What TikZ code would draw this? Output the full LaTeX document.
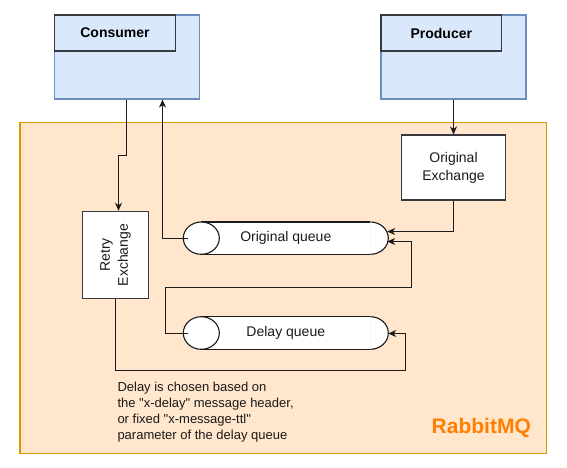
\documentclass[tikz,border=0pt]{standalone}
\usepackage{fontspec}
\setmainfont{Liberation Sans}[Ligatures=TeXOff]
\usetikzlibrary{arrows.meta}
\definecolor{orfill}{HTML}{FFE6CC}
\definecolor{ordraw}{HTML}{D79B00}
\definecolor{blfill}{HTML}{DAE8FC}
\definecolor{bldraw}{HTML}{6C8EBF}
\definecolor{hdrdraw}{HTML}{36393D}
\definecolor{rmq}{HTML}{FF8000}
\definecolor{ink}{HTML}{1A1A1A}
\begin{document}
\begin{tikzpicture}[x=1pt,y=-1pt,
  lbl/.style={font=\fontsize{14}{18}\selectfont, text=ink, align=center},
  small/.style={font=\fontsize{13}{15.9}\selectfont, text=ink, align=left},
  outerbox/.style={draw=bldraw, fill=blfill, line width=1.1pt, inner sep=0pt},
  hdrbox/.style={draw=hdrdraw, fill=blfill, line width=1.1pt, inner sep=0pt, font=\fontsize{14}{18}\selectfont\bfseries},
  exbox/.style={draw=hdrdraw, fill=white, line width=1.1pt, inner sep=0pt},
  arr/.style={draw=ink, line width=1.1pt, -{Stealth[length=8pt,width=7pt,inset=2.5pt]}},
  ln/.style={draw=ink, line width=1.1pt}
]
\useasboundingbox (0,0) rectangle (567,467);
% RabbitMQ container
\node[draw=ordraw, fill=orfill, line width=1.1pt, inner sep=0pt,
      minimum width=526.7, minimum height=330.6] (rabbit) at (283.35,288) {};
\node[font=\fontsize{21}{24}\selectfont\bfseries, text=rmq] (rmqlbl) at (481.3,428.3) {RabbitMQ};

% Consumer / Producer
\node[outerbox, minimum width=144.6, minimum height=84] (cons) at (127,57) {};
\node[hdrbox, minimum width=120.6, minimum height=36] (conshdr) at (115,33) {Consumer};
\node[outerbox, minimum width=145, minimum height=84] (prod) at (453.5,57) {};
\node[hdrbox, minimum width=120.7, minimum height=36] (prodhdr) at (441.3,33) {Producer};

% Exchanges
\node[exbox, lbl, minimum width=104, minimum height=65] (oe) at (453.5,167.5) {Original\\Exchange};
\node[exbox, minimum width=65.4, minimum height=87.4] (retry) at (115.5,255) {};
\node[lbl, rotate=90, inner sep=0pt] (retrytxt) at (retry.center) {Retry\\Exchange};

% Original queue cylinder
\fill[white] (201.3,222) rectangle (370.3,254.3);
\begin{scope}
  \clip (370.3,219) rectangle (392,257);
  \filldraw[fill=white, draw=ink, line width=1.1pt] (370.3,238.15) ellipse [x radius=18, y radius=16.15];
\end{scope}
\draw[ln] (201.3,222) -- (370.3,222) (201.3,254.3) -- (370.3,254.3);
\filldraw[fill=white, draw=ink, line width=1.1pt] (201.3,238.15) ellipse [x radius=18, y radius=16.15];
\node[lbl, inner sep=0pt, minimum width=205, minimum height=32.3] (oq) at (285.8,238.15) {Original queue};

% Delay queue cylinder
\fill[white] (201.3,316.7) rectangle (370.3,349.3);
\begin{scope}
  \clip (370.3,313) rectangle (392,352);
  \filldraw[fill=white, draw=ink, line width=1.1pt] (370.3,333) ellipse [x radius=18, y radius=16.3];
\end{scope}
\draw[ln] (201.3,316.7) -- (370.3,316.7) (201.3,349.3) -- (370.3,349.3);
\filldraw[fill=white, draw=ink, line width=1.1pt] (201.3,333) ellipse [x radius=18, y radius=16.3];
\node[lbl, inner sep=0pt, minimum width=205, minimum height=32.6] (dq) at (285.8,333) {Delay queue};

% connector end points on the queues
\coordinate (oqin1) at ([shift={(-1.3,-6.65)}]oq.east);
\coordinate (oqin2) at ([shift={(-1.3,3.35)}]oq.east);
\coordinate (dqin) at ([shift={(-0.3,0.5)}]dq.east);

% connectors
\draw[arr] (prod.south) -- (oe.north);
\draw[arr] ([xshift=-0.5pt]cons.south) -- ++(0,55.5) -| ([xshift=3pt]retry.north);
\draw[arr] ([xshift=5pt]oq.west) -| ([xshift=35.5pt]cons.south);
\draw[arr] (oe.south) |- (oqin1);
\draw[arr] ([shift={(5,0.5)}]dq.west) -| (165.5,287.5) -| (411.5,241.5) -- (oqin2);
\draw[arr] (retry.south) |- (405.5,370.5) |- (dqin);

% note
\node[small, inner sep=0pt, anchor=north west] (note) at (117.3,382)
  {Delay is chosen based on\\the "x-delay" message header,\\or fixed "x-message-ttl"\\parameter of the delay queue};
\end{tikzpicture}
\end{document}
